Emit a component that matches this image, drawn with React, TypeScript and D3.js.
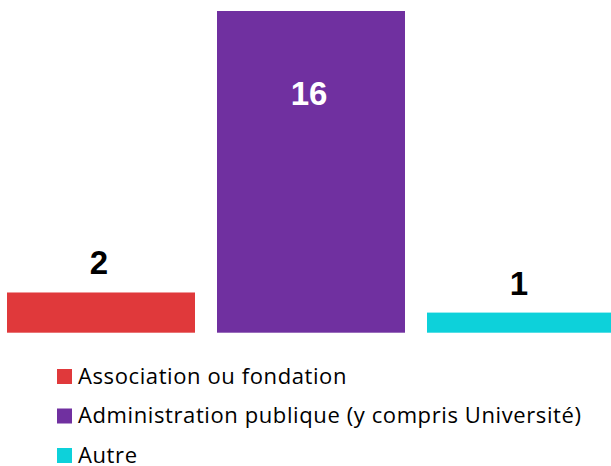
import React from "react";
import * as d3 from "d3";

const categories = ["Association ou fondation", "Administration publique (y compris Université)", "Autre"];
const values = [2, 16, 1];
const colors = ["#E0393B", "#7030A0", "#0DD1DA"];

const W = 611;
const H = 466;

export default function App() {
  const x = d3.scaleBand<string>().domain(categories).range([-4, 626]).paddingInner(22 / 210).paddingOuter(11 / 210);
  const y = d3.scaleLinear().domain([0, 16]).range([332.7, 11]);
  const maxV = d3.max(values) as number;
  return (
    <svg width={W} height={H} style={{ position: "absolute", left: 0, top: 0 }}>
      <rect width={W} height={H} fill="#fff" />
      {categories.map((c, i) => {
        const bx = x(c) as number;
        const bw = x.bandwidth();
        const top = y(values[i]);
        const inside = values[i] === maxV;
        return (
          <g key={c}>
            <rect x={bx} y={top} width={bw} height={y(0) - top} fill={colors[i]} />
            <text
              x={bx + bw / 2 - 2}
              y={inside ? top + 94 : top - 18}
              textAnchor="middle"
              fontFamily="'Liberation Sans', Arial, sans-serif"
              fontWeight="bold"
              fontSize={33}
              fill={inside ? "#fff" : "#000"}
            >
              {values[i]}
            </text>
          </g>
        );
      })}
      {categories.map((c, i) => (
        <g key={"l" + c} transform={`translate(57, ${369 + i * 39.5})`}>
          <rect x={0} y={0} width={15} height={15} fill={colors[i]} />
          <text x={21} y={14.5} fontFamily="'Open Sans', sans-serif" fontSize={22} letterSpacing={0.6} fill="#000">
            {c}
          </text>
        </g>
      ))}
    </svg>
  );
}
